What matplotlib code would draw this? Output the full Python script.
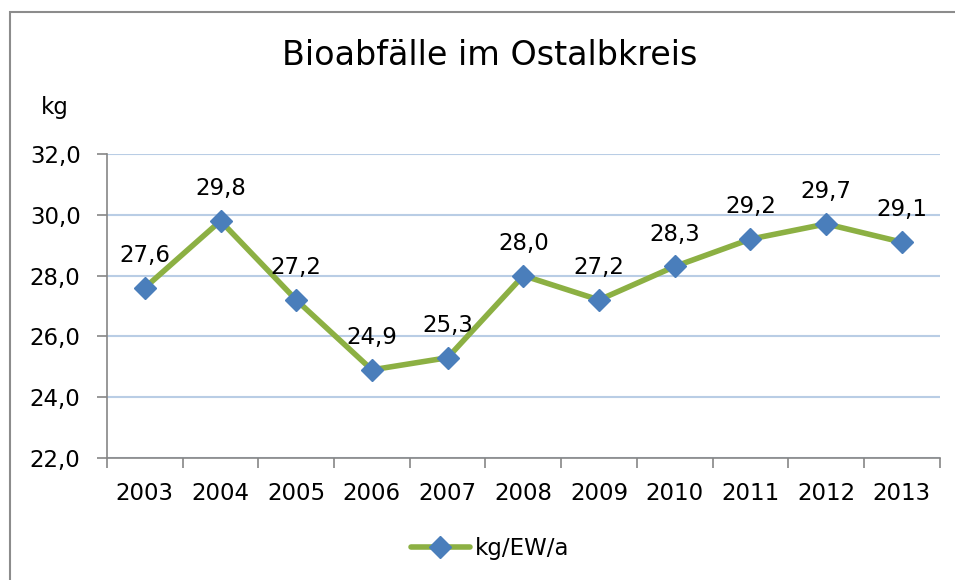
import matplotlib.pyplot as plt
import matplotlib.patches as patches
from matplotlib.ticker import FuncFormatter

years = ['2003', '2004', '2005', '2006', '2007', '2008', '2009', '2010', '2011', '2012', '2013']
values = [27.6, 29.8, 27.2, 24.9, 25.3, 28.0, 27.2, 28.3, 29.2, 29.7, 29.1]
y_ticks = [22, 24, 26, 28, 30, 32]

plt.rcParams['font.family'] = ['DejaVu Sans']

fig = plt.figure(figsize=(9.55, 5.8), dpi=100)
ax = fig.add_axes([0.112, 0.2103, 0.872, 0.5242])

# outer chart border (cropped at right and bottom in reference)
fig.patches.append(patches.Rectangle((10 / 955, -0.01), 1.0, 1 - 12 / 580 + 0.01,
                                     transform=fig.transFigure, fill=False,
                                     edgecolor='#8c8c8c', linewidth=1.5))

x = list(range(len(years)))
ax.plot(x, values, color='#8CB043', linewidth=4, marker='D', markersize=11,
        markerfacecolor='#4A7EBB', markeredgecolor='#4A7EBB', label='kg/EW/a',
        zorder=3, solid_capstyle='round')

for xi, v in zip(x, values):
    ax.annotate(f'{v:.1f}'.replace('.', ','), (xi, v), xytext=(0, 15),
                textcoords='offset points', ha='center', va='bottom', fontsize=16.5)

ax.set_xlim(-0.5, len(years) - 0.5)
ax.set_ylim(22, 32)
ax.set_yticks(y_ticks)
ax.yaxis.set_major_formatter(FuncFormatter(lambda v, p: f'{v:.1f}'.replace('.', ',')))
ax.set_xticks(x)
ax.set_xticklabels(years)
ax.set_xticks([i - 0.5 for i in range(len(years) + 1)], minor=True)
ax.tick_params(axis='x', which='major', length=0, labelsize=16.5, pad=17)
ax.tick_params(axis='x', which='minor', length=7, color='#868686', width=1.2)
ax.tick_params(axis='y', length=7, color='#868686', width=1.2, labelsize=16.5, pad=12)

ax.grid(axis='y', color='#B9CDE5', linewidth=1.5)
ax.set_axisbelow(True)
for s in ['top', 'right']:
    ax.spines[s].set_visible(False)
for s in ['left', 'bottom']:
    ax.spines[s].set_color('#868686')
    ax.spines[s].set_linewidth(1.2)

fig.text(0.513, 0.905, 'Bioabfälle im Ostalbkreis', ha='center', va='center', fontsize=24)
fig.text(0.057, 0.815, 'kg', ha='center', va='center', fontsize=16.5)

ax.legend(loc='center', bbox_to_anchor=(0.513, 0.055), bbox_transform=fig.transFigure,
          frameon=False, fontsize=16.5, handlelength=2.6, handletextpad=0.2)

fig.savefig('out.png', dpi=100)
